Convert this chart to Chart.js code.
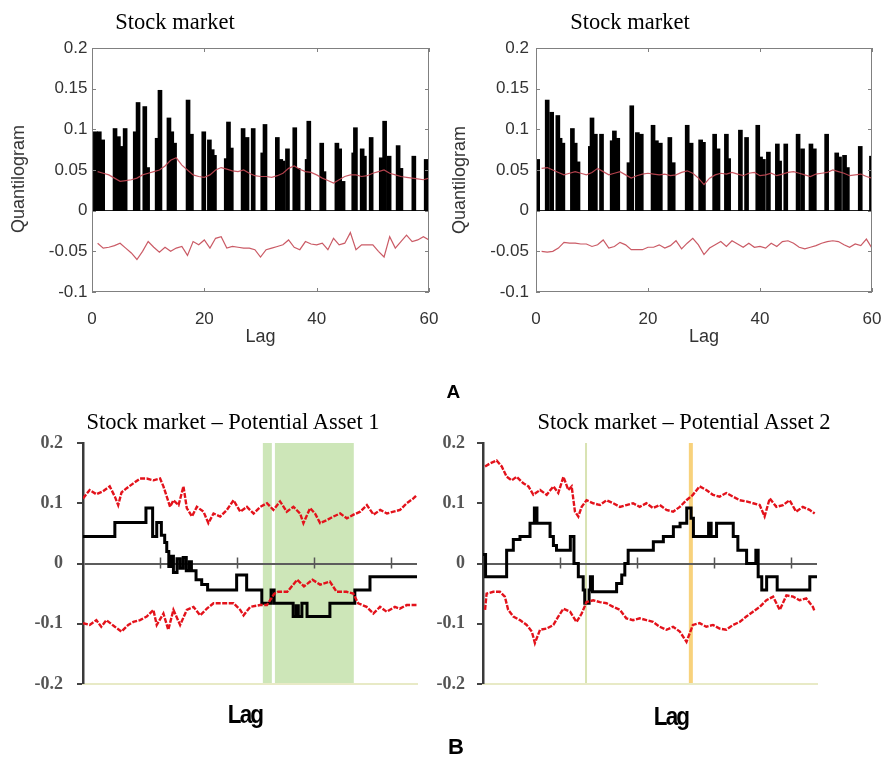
<!DOCTYPE html>
<html>
<head>
<meta charset="utf-8">
<script src="https://cdn.jsdelivr.net/npm/chart.js@4.4.0/dist/chart.umd.min.js"></script>
<style>
  html, body { margin: 0; padding: 0; background: #fff; }
  #fig { position: relative; width: 881px; height: 757px; overflow: hidden; background: #fff; }
  canvas { position: absolute; }
  .t { position: absolute; white-space: nowrap; line-height: 1; }
  .ttl { font-family: 'Liberation Serif', 'Times New Roman', serif; font-size: 22.5px; color: #000; transform: translateX(-50%); }
  .ylab { font-family: 'Liberation Sans', Arial, sans-serif; font-size: 18px; color: #333; transform: translate(-50%, -50%) rotate(-90deg); }
  .pl { font-family: 'Liberation Sans', Arial, sans-serif; font-weight: bold; color: #000; }
  .lagb { font-family: 'Liberation Sans', Arial, sans-serif; font-weight: bold; font-size: 25px; letter-spacing: -2px; color: #000; transform: translateX(-50%) scaleX(0.9); }
</style>
</head>
<body>
<div id="fig">
  <canvas id="a1" width="440" height="360" style="left:0;top:0"></canvas>
  <canvas id="a2" width="441" height="360" style="left:440px;top:0"></canvas>
  <canvas id="b1" width="440" height="357" style="left:0;top:400px"></canvas>
  <canvas id="b2" width="481" height="357" style="left:400px;top:400px"></canvas>

  <div class="t ttl" style="left:175px;top:11.2px">Stock market</div>
  <div class="t ttl" style="left:630px;top:11.2px">Stock market</div>
  <div class="t ylab" style="left:18px;top:179px">Quantilogram</div>
  <div class="t ylab" style="left:459px;top:180px">Quantilogram</div>
  <div class="t pl" style="left:446.5px;top:382px;font-size:19px">A</div>
  <div class="t ttl" style="left:233px;top:411.2px">Stock market – Potential Asset 1</div>
  <div class="t ttl" style="left:684px;top:411.2px">Stock market – Potential Asset 2</div>
  <div class="t lagb" style="left:245px;top:701.8px">Lag</div>
  <div class="t lagb" style="left:671px;top:703.8px">Lag</div>
  <div class="t pl" style="left:448px;top:736.4px;font-size:22px">B</div>
</div>

<script>
// ---------- Panel A: quantilograms at lags 1..60 ----------
const lagsA = Array.from({ length: 60 }, (_, i) => i + 1);

// bar positions (lag) and quantilogram heights, left panel
const barLagsLeft = [0.6, 1.3, 1.9, 4.1, 4.7, 5.1, 5.9, 7.7, 8.2, 9.4, 9.9, 11.6, 12.1, 13.7, 14.2, 14.7,
  17.1, 17.7, 19.9, 20.9, 21.4, 21.8, 23.9, 24.3, 24.8, 26.9, 27.6, 28.7, 30.4, 30.8, 33.0, 33.6, 34.0,
  34.8, 36.1, 36.7, 38.3, 38.6, 40.9, 41.3, 43.6, 44.1, 44.7, 46.6, 46.9, 48.1, 48.5, 49.7, 51.5, 52.1,
  52.9, 54.5, 55.0, 57.3, 59.5];
const barValsLeft = [0.097, 0.097, 0.087, 0.101, 0.091, 0.079, 0.101, 0.097, 0.133, 0.128, 0.053, 0.089,
  0.148, 0.114, 0.097, 0.083, 0.136, 0.094, 0.097, 0.087, 0.075, 0.068, 0.064, 0.109, 0.077, 0.101, 0.090,
  0.101, 0.071, 0.106, 0.090, 0.063, 0.061, 0.076, 0.102, 0.052, 0.063, 0.110, 0.083, 0.048, 0.083, 0.076,
  0.036, 0.071, 0.102, 0.076, 0.067, 0.090, 0.065, 0.110, 0.067, 0.080, 0.052, 0.067, 0.063];
const upperLeft = [0.048, 0.046, 0.044, 0.040, 0.036, 0.037, 0.038, 0.040, 0.044, 0.046, 0.048, 0.050,
  0.055, 0.062, 0.065, 0.056, 0.050, 0.044, 0.042, 0.041, 0.044, 0.050, 0.053, 0.051, 0.049, 0.048, 0.050,
  0.046, 0.043, 0.042, 0.042, 0.041, 0.043, 0.046, 0.052, 0.055, 0.051, 0.048, 0.047, 0.044, 0.040, 0.037,
  0.034, 0.038, 0.042, 0.044, 0.044, 0.042, 0.043, 0.046, 0.048, 0.050, 0.046, 0.044, 0.042, 0.041, 0.040,
  0.039, 0.038, 0.040];
const lowerLeft = [-0.040, -0.046, -0.045, -0.043, -0.040, -0.046, -0.052, -0.060, -0.050, -0.038, -0.045,
  -0.051, -0.045, -0.050, -0.046, -0.044, -0.055, -0.038, -0.042, -0.036, -0.046, -0.034, -0.032, -0.046,
  -0.044, -0.045, -0.046, -0.046, -0.048, -0.057, -0.048, -0.046, -0.044, -0.042, -0.036, -0.045, -0.048,
  -0.038, -0.041, -0.042, -0.040, -0.048, -0.034, -0.042, -0.040, -0.027, -0.048, -0.042, -0.042, -0.042,
  -0.050, -0.057, -0.032, -0.046, -0.038, -0.030, -0.038, -0.036, -0.032, -0.036];

// right panel
const barLagsRight = [0.3, 2.0, 2.8, 3.9, 4.3, 4.8, 6.5, 7.0, 7.5, 9.7, 10.0, 10.6, 11.7, 13.6, 14.0, 14.6,
  16.6, 17.1, 18.1, 18.8, 20.9, 21.5, 22.2, 23.9, 24.5, 27.0, 27.7, 29.4, 29.9, 31.9, 32.5, 34.0, 34.4,
  36.5, 37.6, 39.6, 40.1, 40.6, 41.5, 43.1, 43.5, 44.6, 46.8, 47.6, 49.1, 49.7, 51.9, 53.7, 54.2, 55.1,
  55.6, 57.9, 59.9];
const barValsRight = [0.063, 0.136, 0.121, 0.117, 0.089, 0.083, 0.101, 0.083, 0.060, 0.079, 0.114, 0.094,
  0.094, 0.086, 0.098, 0.089, 0.059, 0.129, 0.096, 0.094, 0.105, 0.086, 0.083, 0.090, 0.059, 0.105, 0.083,
  0.087, 0.084, 0.094, 0.076, 0.094, 0.064, 0.099, 0.090, 0.105, 0.066, 0.063, 0.072, 0.082, 0.061, 0.082,
  0.094, 0.076, 0.082, 0.076, 0.094, 0.071, 0.066, 0.068, 0.053, 0.079, 0.067];
const upperRight = [0.052, 0.053, 0.050, 0.047, 0.044, 0.046, 0.048, 0.046, 0.044, 0.047, 0.052, 0.048,
  0.044, 0.046, 0.048, 0.044, 0.040, 0.043, 0.045, 0.046, 0.045, 0.044, 0.045, 0.043, 0.044, 0.047, 0.049,
  0.046, 0.040, 0.032, 0.040, 0.044, 0.046, 0.045, 0.047, 0.045, 0.043, 0.046, 0.047, 0.043, 0.044, 0.046,
  0.043, 0.045, 0.047, 0.048, 0.046, 0.044, 0.042, 0.045, 0.046, 0.047, 0.050, 0.048, 0.046, 0.043, 0.044,
  0.045, 0.042, 0.040];
const lowerRight = [-0.050, -0.051, -0.050, -0.046, -0.039, -0.040, -0.040, -0.041, -0.041, -0.044, -0.042,
  -0.036, -0.046, -0.044, -0.039, -0.042, -0.048, -0.048, -0.048, -0.045, -0.045, -0.042, -0.046, -0.043,
  -0.037, -0.047, -0.040, -0.034, -0.042, -0.054, -0.046, -0.042, -0.038, -0.044, -0.037, -0.041, -0.045,
  -0.040, -0.045, -0.044, -0.046, -0.040, -0.044, -0.038, -0.037, -0.040, -0.045, -0.047, -0.045, -0.043,
  -0.040, -0.038, -0.037, -0.038, -0.042, -0.045, -0.041, -0.043, -0.035, -0.046];

const yTicksA = [-0.1, 0.2, 0.05];   // min, max, step
const xTicksA = [0, 60, 20];

// ---------- Panel B: rolling cross-quantilogram with bands ----------
const yTicksB = [-0.2, 0.2, 0.1];
const xRangeB = [0, 130];
const zeroTickLags = [30, 60, 90, 120];

const asset1Upper = [[0,0.108],[2.6,0.122],[5.2,0.115],[7.8,0.120],[10.4,0.128],[12.4,0.111],[13.7,0.097],
  [15,0.118],[17,0.125],[19.6,0.133],[22.2,0.141],[24.8,0.141],[27.4,0.138],[30,0.141],[31.3,0.128],
  [32.6,0.111],[33.9,0.094],[35.2,0.105],[37.2,0.097],[39.1,0.128],[40.4,0.092],[42.4,0.078],[44.3,0.094],
  [46.9,0.086],[48.8,0.067],[50.8,0.083],[53.4,0.078],[56,0.089],[58.6,0.105],[61.2,0.086],[63.8,0.094],
  [66.4,0.083],[69,0.094],[71.6,0.100],[74.1,0.089],[76.7,0.103],[79.3,0.086],[81.9,0.094],[84.5,0.083],
  [85.8,0.067],[88.4,0.092],[90.3,0.083],[92.3,0.067],[94.9,0.072],[97.5,0.078],[100.1,0.083],[102.7,0.075],
  [105.3,0.081],[107.9,0.086],[110.5,0.097],[113.1,0.081],[115.7,0.089],[118.3,0.083],[120.9,0.086],
  [123.4,0.089],[126,0.100],[128.6,0.108],[129.8,0.113]];
const asset1Lower = [[0,-0.099],[2.6,-0.102],[5.2,-0.094],[7.1,-0.105],[9.1,-0.094],[12.4,-0.105],[15,-0.113],
  [17.6,-0.102],[19.6,-0.097],[22.2,-0.094],[24.8,-0.088],[27.4,-0.077],[28.7,-0.102],[31.3,-0.083],
  [33.2,-0.110],[35.2,-0.077],[37.8,-0.102],[40.4,-0.077],[43,-0.072],[45.6,-0.086],[48.2,-0.075],
  [50.8,-0.066],[54.7,-0.066],[58.6,-0.066],[61.2,-0.077],[62.5,-0.086],[65.1,-0.072],[69,-0.069],
  [71.6,-0.069],[74.5,-0.050],[75.9,-0.047],[79.5,-0.047],[83.4,-0.027],[86,-0.038],[89.3,-0.027],
  [92.3,-0.035],[96.1,-0.030],[98.7,-0.047],[102.6,-0.047],[105.2,-0.050],[107.1,-0.066],[110.4,-0.072],
  [113,-0.083],[115.6,-0.072],[118.2,-0.080],[121.4,-0.072],[123.3,-0.075],[126,-0.069],[129.8,-0.069]];
const asset1Estimate = [[0,0.045],[12.4,0.068],[24.5,0.092],[27.1,0.045],[28.7,0.068],[30.5,0.047],
  [31.8,0.035],[32.6,0.020],[33.4,-0.005],[34.4,0.012],[35.2,-0.015],[36.6,0.008],[37.8,-0.008],[39.0,0.010],
  [40.2,-0.012],[41.4,0.003],[42.2,-0.012],[44.0,-0.027],[46.2,-0.035],[48.5,-0.044],[59.8,-0.019],
  [63.7,-0.044],[69.6,-0.066],[73.2,-0.044],[74.4,-0.066],[81.8,-0.088],[83.0,-0.070],[83.8,-0.088],
  [85.2,-0.066],[87.2,-0.088],[96.1,-0.066],[105.8,-0.044],[111.7,-0.022],[130,-0.022]];
const asset1Shaded = [[70.0, 73.5], [74.7, 105.4]];

const asset2Upper = [[0.8,0.161],[2.7,0.166],[5.3,0.171],[7.3,0.161],[9.2,0.144],[11.2,0.138],[13.1,0.144],
  [15.7,0.133],[17.7,0.128],[19.6,0.114],[22.2,0.122],[24.8,0.114],[27.4,0.128],[29.3,0.117],[31.3,0.144],
  [33.2,0.122],[34.5,0.128],[35.8,0.086],[37.1,0.078],[38.4,0.094],[40.3,0.105],[42.9,0.100],[45.5,0.097],
  [48.1,0.105],[50.7,0.100],[53.3,0.094],[55.8,0.097],[58.4,0.100],[61,0.094],[63.6,0.100],[66.2,0.092],
  [68.8,0.097],[71.4,0.089],[74,0.086],[76.6,0.094],[79.2,0.105],[81.7,0.114],[84.3,0.128],[86.9,0.122],
  [89.5,0.114],[92.1,0.111],[94.7,0.117],[97.3,0.111],[99.9,0.105],[102.5,0.103],[105.1,0.100],[107.7,0.097],
  [109.6,0.078],[111.6,0.108],[114.2,0.094],[116.8,0.097],[119.3,0.105],[121.9,0.086],[124.5,0.094],
  [127.1,0.089],[129.1,0.083]];
const asset2Lower = [[0.8,-0.077],[1.4,-0.050],[4,-0.047],[6.6,-0.047],[8.5,-0.055],[9.8,-0.077],[11.8,-0.088],
  [14.4,-0.094],[17,-0.102],[19,-0.113],[20.2,-0.132],[22.2,-0.110],[24.8,-0.108],[27.4,-0.102],[29.3,-0.088],
  [31.3,-0.075],[33.9,-0.080],[36.4,-0.097],[38.4,-0.083],[40.3,-0.064],[42.9,-0.061],[45.5,-0.064],
  [48.1,-0.066],[50.7,-0.072],[53.3,-0.077],[55.8,-0.091],[58.4,-0.094],[61,-0.091],[63.6,-0.094],
  [66.2,-0.097],[68.8,-0.105],[71.4,-0.110],[74,-0.105],[76.6,-0.113],[79.2,-0.130],[81.7,-0.102],
  [84.3,-0.099],[86.9,-0.105],[89.5,-0.102],[92.1,-0.108],[94.7,-0.110],[97.3,-0.102],[99.9,-0.097],
  [102.5,-0.088],[105.1,-0.080],[107.7,-0.072],[110.3,-0.061],[112.9,-0.055],[115.5,-0.077],[118.1,-0.053],
  [120.7,-0.055],[123.2,-0.061],[125.8,-0.058],[128.4,-0.072],[129.1,-0.080]];
const asset2Estimate = [[0,0.015],[1.0,-0.022],[9.2,0.022],[11.8,0.040],[14.4,0.045],[18.3,0.067],
  [20.0,0.092],[21.0,0.067],[26.1,0.045],[27.4,0.030],[28.6,0.022],[34.0,0.045],[35.4,0],[37.1,-0.022],
  [39.0,-0.044],[39.6,-0.066],[41.3,-0.044],[41.8,-0.022],[42.6,-0.047],[52.0,-0.033],[54.0,-0.019],
  [55.2,0],[56.5,0.022],[66.3,0.036],[70.2,0.045],[74.1,0.061],[76.7,0.067],[79.3,0.092],[81.0,0.075],
  [81.9,0.045],[87.8,0.067],[88.8,0.045],[90.9,0.067],[97.4,0.045],[99.2,0.022],[102.6,0],[106.2,0.022],
  [107.1,-0.022],[108.5,-0.044],[110.4,-0.022],[114.5,-0.044],[127.2,-0.022],[130,-0.022]];
const asset2Marks = [[40.1, '#d9e3b3', 2], [80.9, '#f8d27c', 4]];

Chart.defaults.animation = false;
Chart.defaults.responsive = false;
Chart.defaults.devicePixelRatio = 1;

const pairs = arr => arr.map(([x, y]) => ({ x, y }));

// box frame with small inward ticks on all four sides
const boxFrame = {
  id: 'boxFrame',
  afterDraw(chart) {
    const { ctx, chartArea: a, scales: { x, y } } = chart;
    ctx.save();
    ctx.strokeStyle = '#808080';
    ctx.lineWidth = 1;
    ctx.strokeRect(Math.round(a.left) + 0.5, Math.round(a.top) + 0.5,
      Math.round(a.right - a.left) - 1, Math.round(a.bottom - a.top) - 1);
    ctx.beginPath();
    x.ticks.forEach(t => {
      const px = Math.round(x.getPixelForValue(t.value)) + 0.5;
      ctx.moveTo(px, a.top); ctx.lineTo(px, a.top + 4);
      ctx.moveTo(px, a.bottom); ctx.lineTo(px, a.bottom - 4);
    });
    y.ticks.forEach(t => {
      const py = Math.round(y.getPixelForValue(t.value)) + 0.5;
      ctx.moveTo(a.left, py); ctx.lineTo(a.left + 4, py);
      ctx.moveTo(a.right, py); ctx.lineTo(a.right - 4, py);
    });
    ctx.stroke();
    ctx.restore();
  }
};

function quantilogram(id, barLags, barVals, upper, lower, yWidth, rightPad, labelPad, titlePad) {
  const sans = { family: "'Liberation Sans', Arial, sans-serif", size: 17 };
  new Chart(document.getElementById(id), {
    type: 'bar',
    data: {
      datasets: [
        { type: 'line', data: lagsA.map((l, i) => ({ x: l, y: upper[i] })), borderColor: 'rgba(196,72,84,0.9)',
          borderWidth: 1.2, pointRadius: 0, order: 0 },
        { type: 'line', data: lagsA.map((l, i) => ({ x: l, y: lower[i] })), borderColor: 'rgba(196,72,84,0.9)',
          borderWidth: 1.2, pointRadius: 0, order: 0 },
        { type: 'bar', data: barLags.map((l, i) => ({ x: l, y: barVals[i] })), backgroundColor: '#000',
          barThickness: 4, order: 1 }
      ]
    },
    options: {
      layout: { padding: { top: 48, right: rightPad, left: 0, bottom: 0 } },
      plugins: { legend: { display: false }, tooltip: { enabled: false } },
      scales: {
        x: {
          type: 'linear', min: xTicksA[0], max: xTicksA[1], offset: false,
          ticks: { stepSize: xTicksA[2], padding: 9, color: '#333', font: sans, maxRotation: 0,
            callback: v => String(v) },
          grid: { display: false, offset: false }, border: { display: false },
          title: { display: true, text: 'Lag', color: '#333', font: { ...sans, size: 18 },
            padding: { top: 0, bottom: titlePad } },
          afterFit: s => { s.height = 68; s.paddingLeft = 0; s.paddingRight = 0; }
        },
        y: {
          min: yTicksA[0], max: yTicksA[1],
          ticks: { stepSize: yTicksA[2], padding: labelPad, color: '#333', font: sans,
            callback: v => String(Math.round(v * 100) / 100) },
          grid: { drawTicks: false, lineWidth: 1,
            color: c => Math.abs(c.tick.value) < 1e-9 ? '#222' : 'rgba(0,0,0,0)' },
          border: { display: false },
          afterFit: s => { s.width = yWidth; }
        }
      }
    },
    plugins: [boxFrame]
  });
}

quantilogram('a1', barLagsLeft, barValsLeft, upperLeft, lowerLeft, 92, 11, 4.5, 12.5);
quantilogram('a2', barLagsRight, barValsRight, upperRight, lowerRight, 96, 9, 7, 12.5);

// shaded periods, marker lines and tick marks on the zero line
const bandDecor = {
  id: 'bandDecor',
  beforeDraw(chart, args, opts) {
    const { ctx, chartArea: a, scales: { x } } = chart;
    ctx.save();
    (opts.shaded || []).forEach(([s, e]) => {
      const x0 = x.getPixelForValue(s), x1 = x.getPixelForValue(e);
      ctx.fillStyle = '#cde6b8';
      ctx.fillRect(x0, a.top, x1 - x0, a.bottom - a.top);
    });
    (opts.marks || []).forEach(([v, col, w]) => {
      const px = x.getPixelForValue(v);
      ctx.fillStyle = col;
      ctx.fillRect(px - w / 2, a.top, w, a.bottom - a.top);
    });
    ctx.restore();
  },
  beforeDatasetsDraw(chart) {
    const { ctx, scales: { x, y } } = chart;
    const py = y.getPixelForValue(0);
    ctx.save();
    ctx.strokeStyle = '#555';
    ctx.lineWidth = 1.5;
    ctx.beginPath();
    zeroTickLags.forEach(v => {
      const px = Math.round(x.getPixelForValue(v)) + 0.5;
      ctx.moveTo(px, py - 6); ctx.lineTo(px, py + 5);
    });
    ctx.stroke();
    ctx.restore();
  }
};

function rollingPanel(id, upper, lower, estimate, yWidth, rightPad, labelPad, decor) {
  const red = { borderColor: '#e3121b', borderWidth: 2.4, borderDash: [5, 1.5], pointRadius: 0, tension: 0 };
  new Chart(document.getElementById(id), {
    type: 'line',
    data: {
      datasets: [
        { ...red, data: pairs(upper) },
        { ...red, data: pairs(lower) },
        { data: pairs(estimate), stepped: true, borderColor: '#000', borderWidth: 3, pointRadius: 0 }
      ]
    },
    options: {
      layout: { padding: { top: 43, right: rightPad, left: 0, bottom: 0 } },
      plugins: { legend: { display: false }, tooltip: { enabled: false }, bandDecor: decor },
      scales: {
        x: {
          type: 'linear', min: xRangeB[0], max: xRangeB[1],
          ticks: { display: false }, grid: { display: false },
          border: { display: true, color: '#e8eac6', width: 2 },
          afterFit: s => { s.height = 73; }
        },
        y: {
          min: yTicksB[0], max: yTicksB[1],
          ticks: { stepSize: yTicksB[2], padding: labelPad, color: '#555',
            font: { family: "'Liberation Serif', 'Times New Roman', serif", size: 18, weight: 'bold' },
            callback: v => String(Math.round(v * 10) / 10) },
          grid: { drawTicks: true, tickLength: 6, tickWidth: 2, tickColor: '#444',
            lineWidth: c => Math.abs(c.tick.value) < 1e-9 ? 2 : 0,
            color: c => Math.abs(c.tick.value) < 1e-9 ? '#5c5c5c' : 'rgba(0,0,0,0)' },
          border: { display: true, color: '#3a3a3a', width: 2.5 },
          afterFit: s => { s.width = yWidth; }
        }
      }
    },
    plugins: [bandDecor]
  });
}

rollingPanel('b1', asset1Upper, asset1Lower, asset1Estimate, 83, 23, 14, { shaded: asset1Shaded });
rollingPanel('b2', asset2Upper, asset2Lower, asset2Estimate, 83, 64, 12, { marks: asset2Marks });
</script>
</body>
</html>
